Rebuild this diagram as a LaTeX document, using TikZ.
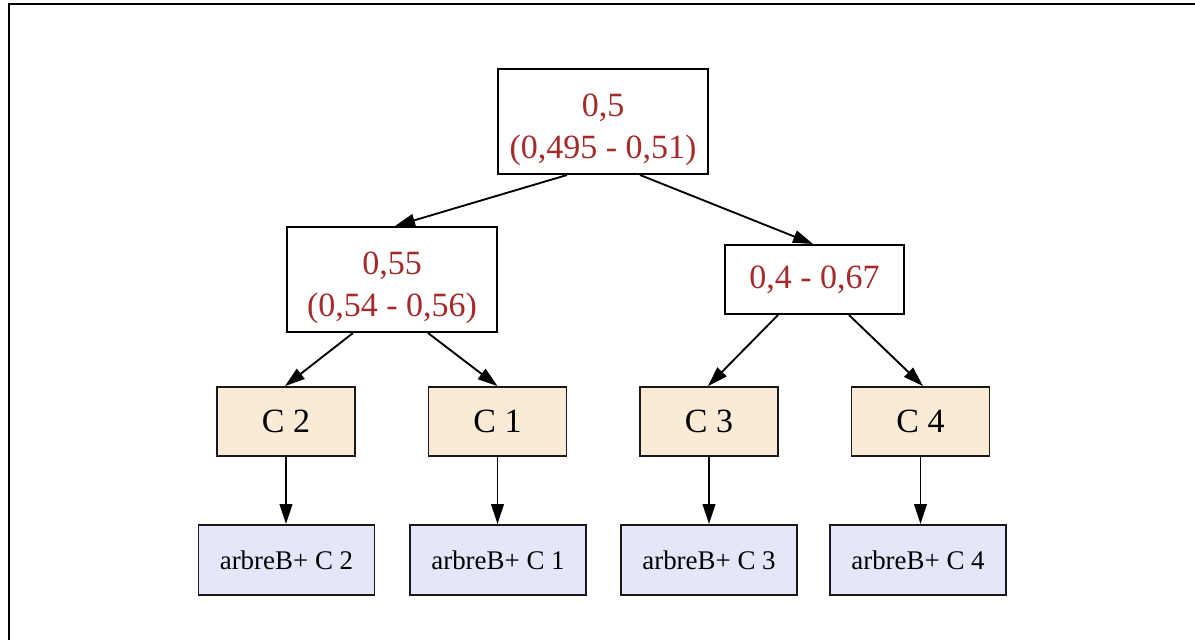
\documentclass[tikz,border=0pt]{standalone}
\usepackage{fontspec}
\setmainfont{Liberation Serif}
\usetikzlibrary{arrows.meta,calc}

\definecolor{valred}{HTML}{A52A2A}
\definecolor{clusterfill}{HTML}{FAEBD7}
\definecolor{leaffill}{HTML}{E6E6FA}

% taller first line so two-line labels sit a little lower in their boxes
\newcommand{\firstline}{\rule{0pt}{29.5pt}}

\tikzset{
  valbox/.style={draw=black, line width=1.5pt, fill=white, inner sep=0pt,
    align=center, text=valred, font=\fontsize{25.5}{31.5}\selectfont},
  clbox/.style={draw=black!90, line width=1.4pt, fill=clusterfill, inner sep=0pt,
    minimum width=103.5pt, minimum height=51.75pt,
    font=\fontsize{25.5}{30}\selectfont},
  leafbox/.style={draw=black!90, line width=1.4pt, fill=leaffill, inner sep=0pt,
    minimum width=132pt, minimum height=52.5pt,
    font=\fontsize{20.2}{24}\selectfont},
  edge/.style={line width=1.4pt, -{Triangle[length=15pt,width=9.5pt]}}
}

\begin{document}
\begin{tikzpicture}[x=0.75pt, y=-0.75pt]
\useasboundingbox (0,0) rectangle (1195,640);

% outer frame (left and top edges)
\draw[line width=1.5pt] (9,640) -- (9,4) -- (1195,4);

% interval nodes
\node[valbox, minimum width=157.5pt, minimum height=78.75pt] (root) at (603,121.5) {\firstline 0,5\\(0,495 - 0,51)};
\node[valbox, minimum width=157.5pt, minimum height=78.75pt] (lm) at (392,279.5) {\firstline 0,55\\(0,54 - 0,56)};
\node[valbox, minimum width=134.25pt, minimum height=51.75pt] (rm) at (814.5,279.5) {0,4 - 0,67};

% clusters
\node[clbox] (c2) at (286,421.5) {C 2};
\node[clbox] (c1) at (497.5,421.5) {C 1};
\node[clbox] (c3) at (709,421.5) {C 3};
\node[clbox] (c4) at (920.5,421.5) {C 4};

% B+ trees
\node[leafbox] (b2) at (286.5,560) {arbreB+ C 2};
\node[leafbox] (b1) at (498,560) {arbreB+ C 1};
\node[leafbox] (b3) at (709,560) {arbreB+ C 3};
\node[leafbox] (b4) at (918,560) {arbreB+ C 4};

% edges
\draw[edge] ($(root.south)+(-36,0)$) -- ($(lm.north)+(3,0)$);
\draw[edge] ($(root.south)+(37,0)$) -- ($(rm.north)+(-1.5,0)$);
\draw[edge] ($(lm.south)+(-39,0)$) -- ($(c2.north)+(-1,0)$);
\draw[edge] ($(lm.south)+(36,0)$) -- (c1.north);
\draw[edge] ($(rm.south)+(-36.5,0)$) -- ($(c3.north)+(-1,0)$);
\draw[edge] ($(rm.south)+(34.5,0)$) -- ($(c4.north)+(2.5,0)$);
\draw[edge] (c2.south) -- (c2.south |- b2.north);
\draw[edge] (c1.south) -- (c1.south |- b1.north);
\draw[edge] (c3.south) -- (c3.south |- b3.north);
\draw[edge] (c4.south) -- (c4.south |- b4.north);
\end{tikzpicture}
\end{document}
